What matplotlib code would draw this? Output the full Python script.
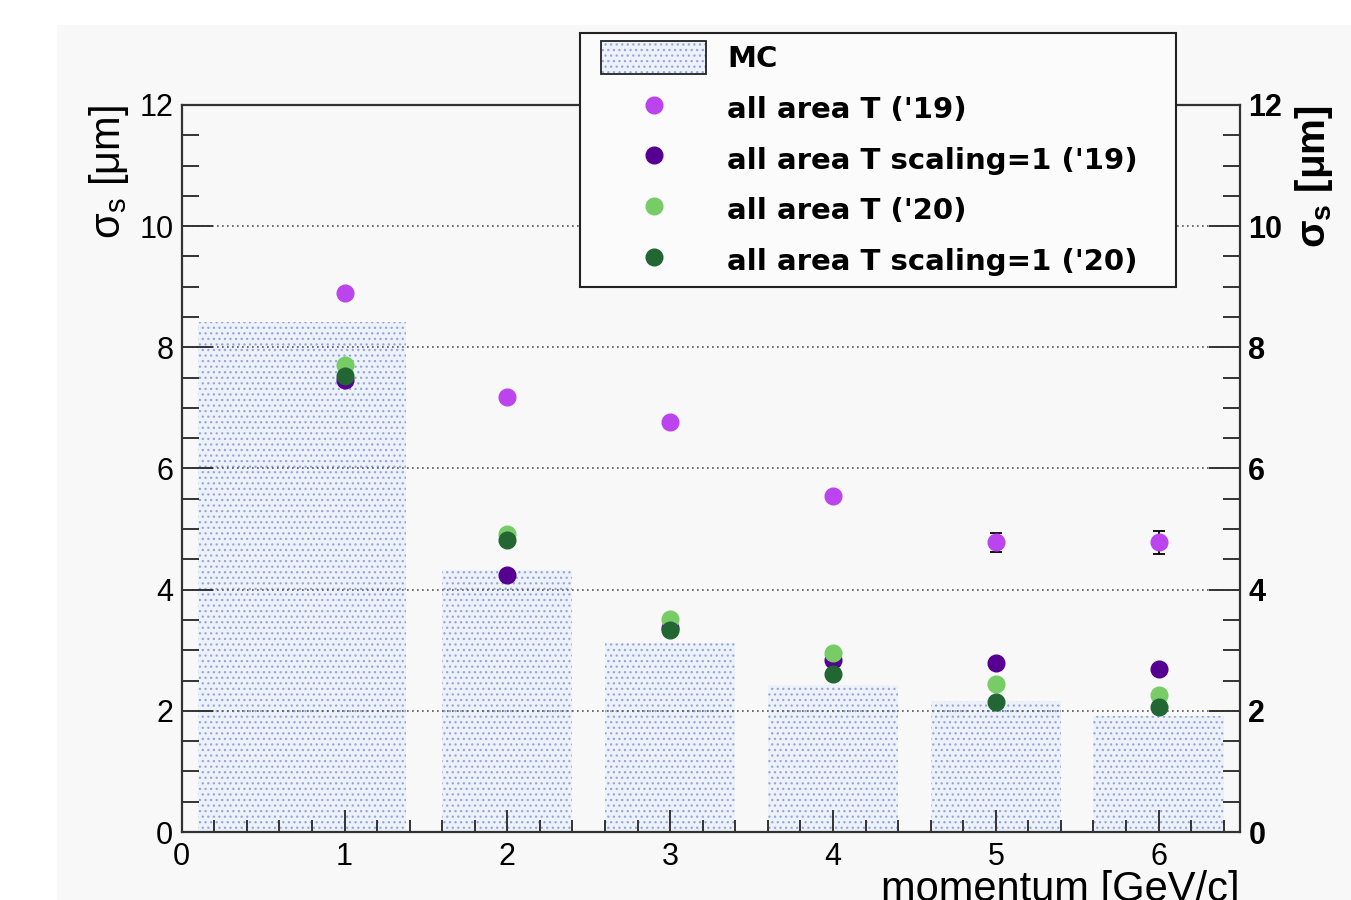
import matplotlib
matplotlib.use("Agg")
import matplotlib.pyplot as plt
from matplotlib.patches import Patch, Rectangle
from matplotlib.lines import Line2D
from matplotlib.ticker import MultipleLocator
import numpy as np

plt.rcParams['font.family'] = ['Liberation Sans', 'DejaVu Sans']
plt.rcParams['mathtext.fontset'] = 'custom'
plt.rcParams['mathtext.rm'] = 'Liberation Sans'
plt.rcParams['mathtext.it'] = 'Liberation Sans'
plt.rcParams['mathtext.bf'] = 'Liberation Sans:bold'
plt.rcParams['hatch.color'] = '#94a7da'
plt.rcParams['hatch.linewidth'] = 0.9

# momentum bins (GeV/c)
momentum = [1, 2, 3, 4, 5, 6]

# MC histogram: bin edges and sigma_s
mc_left = [0.1, 1.6, 2.6, 3.6, 4.6, 5.6]
mc_right = [1.38, 2.4, 3.4, 4.4, 5.4, 6.4]
mc_sigma = [8.42, 4.32, 3.12, 2.43, 2.16, 1.91]

# data points
all19 = [8.89, 7.18, 6.77, 5.55, 4.78, 4.78]
all19_err = [0.05, 0.05, 0.05, 0.07, 0.16, 0.19]
all19_s1 = [7.46, 4.24, 3.36, 2.84, 2.79, 2.69]
all19_s1_err = [0.04, 0.04, 0.04, 0.05, 0.06, 0.07]
all20 = [7.71, 4.92, 3.52, 2.95, 2.44, 2.26]
all20_err = [0.03, 0.03, 0.03, 0.04, 0.04, 0.05]
all20_s1 = [7.52, 4.82, 3.33, 2.61, 2.15, 2.06]
all20_s1_err = [0.03, 0.03, 0.03, 0.04, 0.04, 0.05]

c19 = '#bb44ee'
c19s = '#550090'
c20 = '#77cc66'
c20s = '#226633'
bg = '#f7f8f7'
axcol = '#333333'
mcfill = '#edf1f9'

W, H = 1351, 900
fig = plt.figure(figsize=(W / 100, H / 100), dpi=100, facecolor='white')
fig.add_artist(Rectangle((57 / W, 0), 1 - 57 / W, 1 - 25 / H, transform=fig.transFigure,
                         facecolor=bg, edgecolor='none', zorder=-10))

ax = fig.add_axes([181.7 / W, 1 - 832 / H, (1240 - 181.7) / W, (832 - 105) / H])
ax.set_facecolor(bg)
ax.set_xlim(0, 6.5)
ax.set_ylim(0, 12)
ax.set_axisbelow(True)

widths = np.array(mc_right) - np.array(mc_left)
ax.bar(mc_left, mc_sigma, width=widths, align='edge', facecolor=mcfill,
       hatch='...', linewidth=0, zorder=0.3)

ms = 12
series = [(all19, all19_err, c19), (all19_s1, all19_s1_err, c19s),
          (all20, all20_err, c20), (all20_s1, all20_s1_err, c20s)]
for vals, errs, col in series:
    ax.errorbar(momentum, vals, yerr=errs, fmt='o', color=col, ms=ms, mec=col,
                ecolor='black', elinewidth=1.3, capsize=4, capthick=1.3, zorder=3)

ax.yaxis.grid(True, linestyle=(0, (1, 2)), color='#555555', linewidth=1.2)

for s in ax.spines.values():
    s.set_color(axcol)
    s.set_linewidth(1.6)

ax.xaxis.set_major_locator(MultipleLocator(1))
ax.xaxis.set_minor_locator(MultipleLocator(0.2))
ax.yaxis.set_major_locator(MultipleLocator(2))
ax.yaxis.set_minor_locator(MultipleLocator(0.5))
ax.tick_params(axis='x', which='both', direction='in', top=False, colors=axcol,
               labelcolor='black', labelsize=22, pad=7)
ax.tick_params(axis='x', which='major', length=16, width=1.4)
ax.tick_params(axis='x', which='minor', length=8.5, width=1.4)
ax.tick_params(axis='y', which='both', direction='in', right=False, colors=axcol,
               labelcolor='black', labelsize=22, pad=6)
ax.tick_params(axis='y', which='major', length=22, width=1.4)
ax.tick_params(axis='y', which='minor', length=12, width=1.4)

ax.set_ylabel(r'$\mathregular{\sigma_s}$ [μm]', loc='top', fontsize=30, labelpad=6)
ax.set_xlabel('momentum [GeV/c]', loc='right', fontsize=30, labelpad=-1)

ax2 = ax.twinx()
ax2.set_ylim(0, 12)
ax2.yaxis.set_major_locator(MultipleLocator(2))
ax2.yaxis.set_minor_locator(MultipleLocator(0.5))
ax2.tick_params(axis='y', which='both', direction='in', colors=axcol,
                labelcolor='black', labelsize=22, pad=6)
ax2.tick_params(axis='y', which='major', length=22, width=1.4)
ax2.tick_params(axis='y', which='minor', length=12, width=1.4)
for lab in ax2.get_yticklabels():
    lab.set_fontweight('bold')
for s in ax2.spines.values():
    s.set_visible(False)
ax2.set_ylabel(r'$\mathbf{\sigma_s}$ [μm]', loc='top', fontsize=29, fontweight='bold', labelpad=8)

# legend
fig.add_artist(Rectangle((580 / W, 1 - 287 / H), (1176 - 580) / W, (287 - 33) / H,
                         transform=fig.transFigure, facecolor='#fafbfa',
                         edgecolor='#222222', linewidth=1.5, zorder=5))
lfs = 21
F = lfs * 100 / 72
mc_handle = (Patch(facecolor=mcfill, hatch='...', linewidth=0),
             Patch(facecolor='none', edgecolor='#222222', linewidth=1.3))
handles = [mc_handle] + [Line2D([], [], ls='none', marker='o', ms=ms, color=c, mec=c)
                         for c in (c19, c19s, c20, c20s)]
labels = ['MC', "all area T ('19)", "all area T scaling=1 ('19)",
          "all area T ('20)", "all area T scaling=1 ('20)"]
leg = fig.legend(handles, labels, loc='upper left', bbox_to_anchor=(601 / W, 1 - 41 / H),
                 bbox_transform=fig.transFigure, frameon=False, borderpad=0,
                 borderaxespad=0, handlelength=105 / F, handleheight=40 / F,
                 handletextpad=21 / F, labelspacing=0.6, numpoints=1,
                 prop={'family': 'DejaVu Sans', 'size': lfs, 'weight': 'bold'})
leg.set_zorder(10)

fig.savefig('out.png', dpi=100, facecolor='white')
